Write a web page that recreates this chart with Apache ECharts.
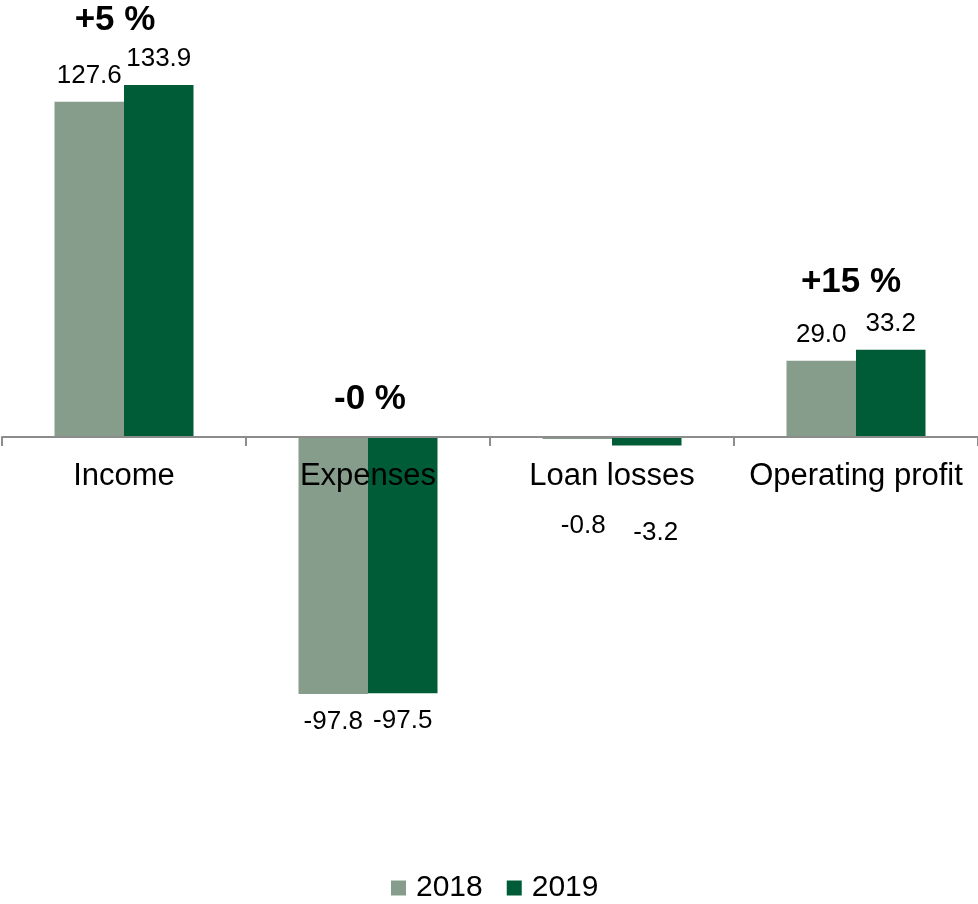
<!DOCTYPE html>
<html>
<head>
<meta charset="utf-8">
<script src="https://cdn.jsdelivr.net/npm/echarts@6/dist/echarts.min.js"></script>
<style>
  html, body { margin: 0; padding: 0; background: #ffffff; }
  #chart { width: 978px; height: 904px; }
</style>
</head>
<body>
<div id="chart"></div>
<script>
// Income statement items, 2018 vs 2019
const categories = ['Income', 'Expenses', 'Loan losses', 'Operating profit'];
const values2018 = [127.6, -97.8, -0.8, 29.0];
const values2019 = [133.9, -97.5, -3.2, 33.2];
const changeLabels = ['+5 %', '-0 %', '', '+15 %'];
const seriesNames = ['2018', '2019'];

const FONT = '"Liberation Sans", Arial, Helvetica, sans-serif';
const COLOR_2018 = '#879d8b';
const COLOR_2019 = '#005c36';
const AXIS_COLOR = '#8c8c8c';

// extra label nudges (pixels) for the small loan-loss bars, whose labels sit below the category text
const labelNudge = {
  '2018': { 2: [6, 69] },
  '2019': { 2: [9, 69] }
};

function barData(values, name) {
  return values.map((v, i) => {
    const nudge = (labelNudge[name] || {})[i];
    const label = {
      position: v >= 0 ? 'top' : 'bottom',
      distance: v >= 0 ? 13 : 15
    };
    if (nudge) {
      label.offset = nudge;
      label.distance = 5;
    }
    return { value: v, label: label };
  });
}

// growth annotation above each pair: anchored at the higher bar (or the zero line)
const changeOffsets = [[-9, -65], [2, -38], [0, 0], [-5, -67]];
const changeData = categories.map((c, i) => {
  const anchor = Math.max(0, values2018[i], values2019[i]);
  return {
    value: [i, anchor],
    label: { show: changeLabels[i] !== '', formatter: changeLabels[i], offset: changeOffsets[i] }
  };
});

const chart = echarts.init(document.getElementById('chart'), null, { renderer: 'canvas' });

// The grid covers only the positive half; the category axis sits on its bottom edge (value 0)
// and negative bars extend below it unclipped on the same linear scale.
chart.setOption({
  animation: false,
  backgroundColor: '#ffffff',
  textStyle: { fontFamily: FONT },
  grid: { left: 2, right: 0, top: 42.8, height: 394.2, containLabel: false },
  xAxis: {
    type: 'category',
    data: categories,
    z: 3,
    axisLine: { show: true, onZero: false, lineStyle: { color: AXIS_COLOR, width: 2 } },
    axisTick: { show: true, length: 9, lineStyle: { color: AXIS_COLOR, width: 2 } },
    axisLabel: { show: true, margin: 24, fontSize: 31, color: '#000000', fontFamily: FONT, interval: 0 },
    splitLine: { show: false }
  },
  yAxis: {
    type: 'value',
    min: 0,
    max: 150,
    show: false,
    splitLine: { show: false }
  },
  legend: {
    data: seriesNames,
    left: 391,
    top: 873,
    padding: 0,
    icon: 'rect',
    itemWidth: 15,
    itemHeight: 15,
    itemGap: 24,
    textStyle: { fontSize: 30, color: '#000000', fontFamily: FONT, padding: [0, 0, 0, 5] }
  },
  series: [
    {
      name: seriesNames[0],
      type: 'bar',
      data: barData(values2018, '2018'),
      barWidth: 69.5,
      barGap: '0%',
      clip: false,
      itemStyle: { color: COLOR_2018 },
      label: {
        show: true,
        fontSize: 26,
        color: '#000000',
        fontFamily: FONT,
        formatter: p => p.value.toFixed(1)
      }
    },
    {
      name: seriesNames[1],
      type: 'bar',
      data: barData(values2019, '2019'),
      barWidth: 69.5,
      barGap: '0%',
      clip: false,
      itemStyle: { color: COLOR_2019 },
      label: {
        show: true,
        fontSize: 26,
        color: '#000000',
        fontFamily: FONT,
        formatter: p => p.value.toFixed(1)
      }
    },
    {
      name: 'change',
      type: 'scatter',
      data: changeData,
      symbolSize: 0,
      clip: false,
      silent: true,
      z: 5,
      itemStyle: { opacity: 1 },
      label: {
        show: true,
        position: 'inside',
        fontSize: 35,
        fontWeight: 'bold',
        color: '#000000',
        opacity: 1,
        fontFamily: FONT
      }
    }
  ]
});
</script>
</body>
</html>
